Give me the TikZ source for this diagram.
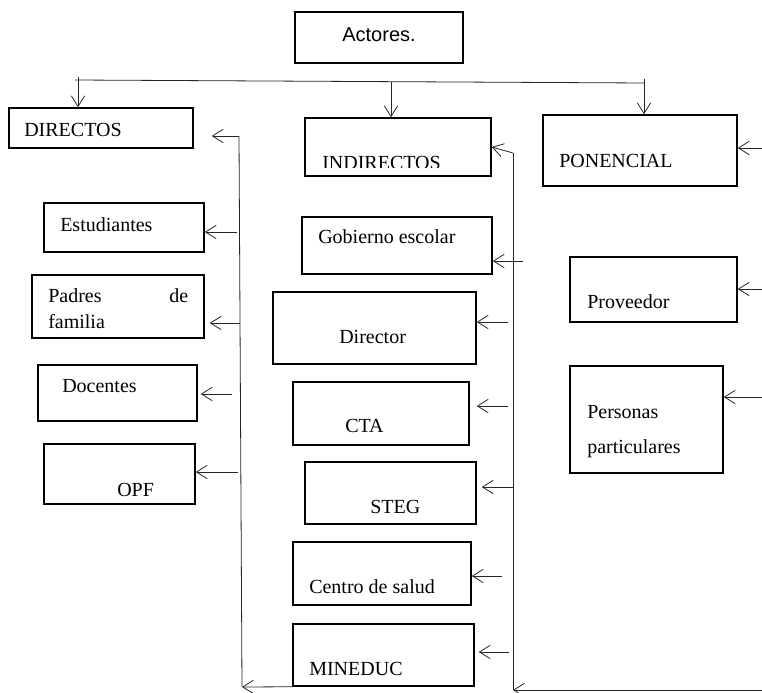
\documentclass[tikz,border=0pt]{standalone}
\usepackage{fontspec}
\setmainfont{Liberation Serif}
\newfontfamily\arialf{Liberation Sans}
\usetikzlibrary{arrows.meta,fit}
\begin{document}
\begin{tikzpicture}[x=0.75pt,y=-0.75pt,
  boxn/.style={draw=black,line width=1.1pt,inner sep=0pt},
  lbl/.style={anchor=base west,inner sep=0pt,font=\fontsize{15}{18}\selectfont},
  conn/.style={draw=black!85,line width=0.6pt},
  arr/.style={conn,-{Straight Barb[length=8pt,width=10pt,line width=0.6pt]}}
]
\useasboundingbox (0,0) rectangle (762,692);
\fill[white] (0,0) rectangle (762,692);

% boxes
\node[boxn, fit={(295,12) (463,63)}] (act) {};
\node[boxn, fit={(9,108) (193,148)}] (dir) {};
\node[boxn, fit={(305,118) (491,176)}] (ind) {};
\node[boxn, fit={(543,115) (737,186)}] (pon) {};
\node[boxn, fit={(44,203) (204,252)}] (est) {};
\node[boxn, fit={(32,275) (204,338)}] (pad) {};
\node[boxn, fit={(38,365) (197,421)}] (doc) {};
\node[boxn, fit={(44,444) (195,504)}] (opf) {};
\node[boxn, fit={(302,217) (492,274)}] (gob) {};
\node[boxn, fit={(273,292) (476,364)}] (dirc) {};
\node[boxn, fit={(293,382) (469,445)}] (cta) {};
\node[boxn, fit={(305,462) (476,524)}] (steg) {};
\node[boxn, fit={(293,542) (471,605)}] (cen) {};
\node[boxn, fit={(293,624) (474,686)}] (mined) {};
\node[boxn, fit={(570,257) (737,322)}] (prov) {};
\node[boxn, fit={(570,366) (723,473)}] (pers) {};

% texts
\node[lbl, anchor=base, font=\arialf\fontsize{15}{18}\selectfont] (tact) at (379,41) {Actores.};
\node[lbl] (tdir) at (24,136) {DIRECTOS};
\begin{scope}
  \clip (305,118) rectangle (491,167.5);
  \node[lbl] (tind) at (322,169) {INDIRECTOS};
\end{scope}
\node[lbl] (tpon) at (559,167) {PONENCIAL};
\node[lbl] (test) at (60,231) {Estudiantes};
\node[lbl] (tpad1) at (48,302) {\makebox[105pt][s]{Padres de}};
\node[lbl] (tpad2) at (48,328) {familia};
\node[lbl] (tdoc) at (62,392) {Docentes};
\node[lbl] (topf) at (117,496) {OPF};
\node[lbl] (tgob) at (318,243) {Gobierno escolar};
\node[lbl] (tdirc) at (339,343) {Director};
\node[lbl] (tcta) at (345,432) {CTA};
\node[lbl] (tsteg) at (370,513) {STEG};
\node[lbl] (tcen) at (309,593) {Centro de salud};
\node[lbl] (tmin) at (309,675) {MINEDUC};
\node[lbl] (tprov) at (587,308) {Proveedor};
\node[lbl] (tpers1) at (587,418) {Personas};
\node[lbl] (tpers2) at (587,453) {particulares};

% top distribution line
\coordinate (hl) at (75,80);
\coordinate (hr) at (645,83);
\draw[conn] (hl) -- (hr);
\coordinate (tp1) at (78,77);
\coordinate (tp2) at (391,82);
\coordinate (tp3) at (644,79);
\draw[arr] (tp1) -- (tp1 |- dir.north);
\draw[arr] (tp2) -- (tp2 |- ind.north);
\draw[arr] (tp3) -- (tp3 |- pon.north);

% left vertical bus
\coordinate (lvt) at (239,136);
\coordinate (lvb) at (242,687);
\draw[conn] (lvt) -- (lvb);
\draw[arr, shorten >=13.5pt] (lvt) -- (dir.east |- lvt);
\draw[arr] (mined.south west) -- (lvb);
\coordinate (a1) at (237,232);
\coordinate (a2) at (240,323);
\coordinate (a3) at (232,394);
\coordinate (a4) at (238,472);
\draw[arr] (a1) -- (est.east |- a1);
\draw[arr, shorten >=3.75pt] (a2) -- (pad.east |- a2);
\draw[arr, shorten >=2.25pt] (a3) -- (doc.east |- a3);
\draw[arr] (a4) -- (opf.east |- a4);

% right vertical bus
\coordinate (rvt) at (513,153);
\coordinate (rvb) at (513,690);
\draw[conn] (rvt) -- (rvb);
\draw[arr] (rvt) -- (ind.east);
\coordinate (br) at (762,690);
\draw[arr] (br) -- (rvb);
\coordinate (b1) at (523,261);
\coordinate (b2) at (508,322);
\coordinate (b3) at (508,406);
\coordinate (b4) at (513,487);
\coordinate (b5) at (502,576);
\coordinate (b6) at (509,652);
\draw[arr] (b1) -- (gob.east |- b1);
\draw[arr] (b2) -- (dirc.east |- b2);
\draw[arr, shorten >=5.25pt] (b3) -- (cta.east |- b3);
\draw[arr, shorten >=3.75pt] (b4) -- (steg.east |- b4);
\draw[arr] (b5) -- (cen.east |- b5);
\draw[arr, shorten >=3pt] (b6) -- (mined.east |- b6);

% right edge arrows
\coordinate (e1) at (762,148);
\coordinate (e2) at (762,289);
\coordinate (e3) at (762,397);
\draw[arr] (e1) -- (pon.east |- e1);
\draw[arr] (e2) -- (prov.east |- e2);
\draw[arr] (e3) -- (pers.east |- e3);
\end{tikzpicture}
\end{document}
